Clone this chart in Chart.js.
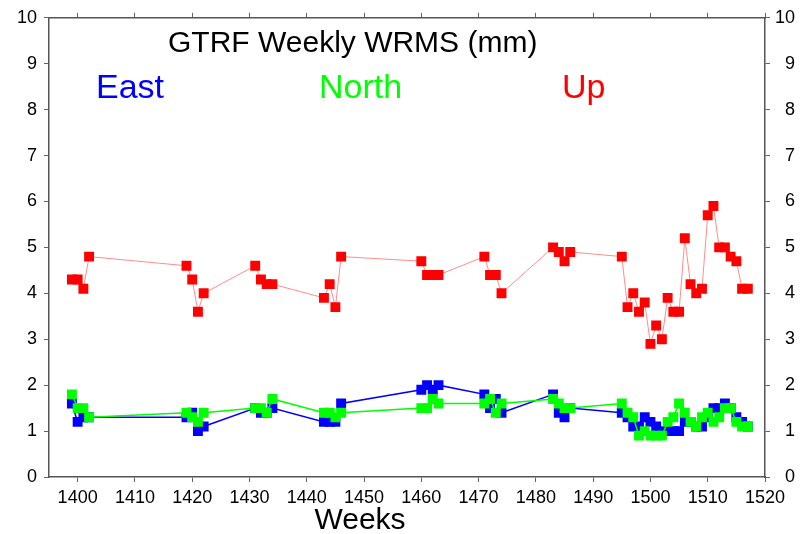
<!DOCTYPE html>
<html><head><meta charset="utf-8">
<script src="https://cdn.jsdelivr.net/npm/chart.js@4"></script>
<style>html,body{margin:0;padding:0;background:#fff}</style>
</head><body>
<canvas id="c" width="805" height="534"></canvas>
<script>
const weeks = [1399,1400,1401,1402,1419,1420,1421,1422,1431,1432,1433,1434,1443,1444,1445,1446,1460,1461,1462,1463,1471,1472,1473,1474,1483,1484,1485,1486,1495,1496,1497,1498,1499,1500,1501,1502,1503,1504,1505,1506,1507,1508,1509,1510,1511,1512,1513,1514,1515,1516,1517];
const eastValues = [1.6,1.2,1.3,1.3,1.3,1.4,1.0,1.1,1.5,1.4,1.4,1.5,1.2,1.2,1.2,1.6,1.9,2.0,1.9,2.0,1.8,1.5,1.7,1.4,1.8,1.4,1.3,1.5,1.4,1.3,1.1,1.1,1.3,1.2,1.1,1.0,1.0,1.0,1.0,1.2,1.2,1.1,1.1,1.3,1.5,1.5,1.6,1.5,1.3,1.2,1.1];
const northValues = [1.8,1.5,1.5,1.3,1.4,1.3,1.2,1.4,1.5,1.5,1.4,1.7,1.4,1.4,1.3,1.4,1.5,1.5,1.7,1.6,1.6,1.7,1.4,1.6,1.7,1.6,1.5,1.5,1.6,1.4,1.3,0.9,1.0,0.9,0.9,0.9,1.2,1.3,1.6,1.4,1.2,1.1,1.3,1.4,1.2,1.3,1.5,1.5,1.2,1.1,1.1];
const upValues = [4.3,4.3,4.1,4.8,4.6,4.3,3.6,4.0,4.6,4.3,4.2,4.2,3.9,4.2,3.7,4.8,4.7,4.4,4.4,4.4,4.8,4.4,4.4,4.0,5.0,4.9,4.7,4.9,4.8,3.7,4.0,3.6,3.8,2.9,3.3,3.0,3.9,3.6,3.6,5.2,4.2,4.0,4.1,5.7,5.9,5.0,5.0,4.8,4.7,4.1,4.1];
const xTickValues = [1400,1410,1420,1430,1440,1450,1460,1470,1480,1490,1500,1510,1520];
const yTickValues = [0,1,2,3,4,5,6,7,8,9,10];
const titleText = 'GTRF Weekly WRMS (mm)';
const seriesNames = ['East','North','Up'];
const xAxisTitle = 'Weeks';

const FONT = "'Liberation Sans', Arial, Helvetica, sans-serif";
const toPts = vals => weeks.map((w,i)=>({x:w,y:vals[i]}));
const fixTicks = vals => (axis => { axis.ticks = vals.map(v=>({value:v})); });
const plainLabel = v => String(v);
const gridOpts = {drawOnChartArea:false, drawTicks:true, tickLength:5, color:'#666', lineWidth:1};
const borderOpts = {display:true, color:'#555', width:1.5};

const textPlugin = {
  id:'texts',
  afterDraw(chart){
    const ctx = chart.ctx;
    ctx.save();
    ctx.textBaseline = 'alphabetic';
    ctx.textAlign = 'left';
    ctx.fillStyle = '#000';
    ctx.font = '30px ' + FONT;
    ctx.fillText(titleText, 168, 52);
    ctx.font = '34px ' + FONT;
    ctx.fillStyle = '#0000ff'; ctx.fillText(seriesNames[0], 96, 98);
    ctx.fillStyle = '#00ff00'; ctx.fillText(seriesNames[1], 319, 98);
    ctx.fillStyle = '#ff0000'; ctx.fillText(seriesNames[2], 562, 98);
    ctx.fillStyle = '#000';
    ctx.textAlign = 'center';
    ctx.font = '30px ' + FONT;
    ctx.fillText(xAxisTitle, 360, 529);
    ctx.restore();
  }
};

new Chart(document.getElementById('c'), {
  type:'line',
  data:{datasets:[
    {label:seriesNames[1], data:toPts(northValues), borderColor:'#00ff00', backgroundColor:'#00ff00', borderWidth:1.5, pointStyle:'rect', pointRadius:7, pointBorderWidth:0, pointBackgroundColor:'#00ff00', tension:0},
    {label:seriesNames[0], data:toPts(eastValues), borderColor:'#0000ff', backgroundColor:'#0000ff', borderWidth:1.5, pointStyle:'rect', pointRadius:7, pointBorderWidth:0, pointBackgroundColor:'#0000ff', tension:0},
    {label:seriesNames[2], data:toPts(upValues), borderColor:'rgba(255,0,0,0.45)', backgroundColor:'#ff0000', borderWidth:1, pointStyle:'rect', pointRadius:7, pointBorderWidth:0, pointBackgroundColor:'#ff0000', tension:0}
  ]},
  options:{
    responsive:false, animation:false, devicePixelRatio:1,
    layout:{padding:{left:0, right:10, top:0, bottom:0}},
    plugins:{legend:{display:false}, tooltip:{enabled:false}, title:{display:false}},
    scales:{
      x:{type:'linear', position:'bottom', min:1395, max:1520,
        afterBuildTicks:fixTicks(xTickValues),
        afterFit(a){a.height=57;},
        grid:gridOpts, border:borderOpts,
        ticks:{color:'#000', font:{family:FONT,size:18}, padding:5, maxRotation:0, autoSkip:false, callback:plainLabel}},
      xTop:{type:'linear', position:'top', min:1395, max:1520,
        afterBuildTicks:fixTicks(xTickValues),
        afterFit(a){a.height=16;},
        grid:gridOpts, border:borderOpts,
        ticks:{display:false}},
      y:{type:'linear', position:'left', min:0, max:10,
        afterBuildTicks:fixTicks(yTickValues),
        afterFit(a){a.width=49;},
        grid:gridOpts, border:borderOpts,
        ticks:{color:'#000', font:{family:FONT,size:18}, padding:7, callback:plainLabel}},
      y2:{type:'linear', position:'right', min:0, max:10,
        afterBuildTicks:fixTicks(yTickValues),
        afterFit(a){a.width=30;},
        grid:gridOpts, border:borderOpts,
        ticks:{color:'#000', font:{family:FONT,size:18}, padding:5, crossAlign:'far', callback:plainLabel}}
    }
  },
  plugins:[textPlugin]
});
</script>
</body></html>
